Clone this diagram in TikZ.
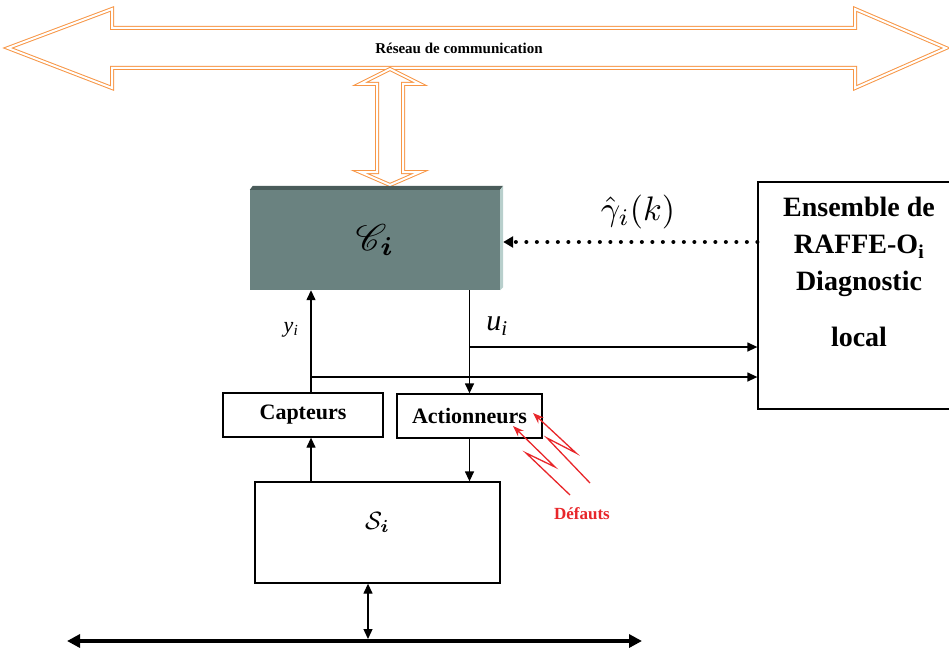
\documentclass[tikz,border=0pt]{standalone}
\usepackage{fontspec}
\setmainfont{Liberation Serif}
\usepackage{amsmath,bm}
\usepackage{mathrsfs}
\usepackage{graphicx}
\usetikzlibrary{arrows.meta,positioning,calc}
\definecolor{netorange}{HTML}{F79646}
\definecolor{ctrlgray}{HTML}{6A8280}
\definecolor{ctrldark}{HTML}{4A5C5A}
\definecolor{ctrllight}{HTML}{B8CFCC}
\definecolor{faultred}{HTML}{E8262A}
\tikzset{
  blockbox/.style={draw, line width=1.3pt, inner sep=0pt, font=\fontsize{22}{26}\selectfont\bfseries},
  sig/.style={-{Triangle[length=10pt,width=9pt]}, line width=1.3pt},
  pipe/.style={draw=netorange, line width=1pt, double=white, double distance=2pt, fill=white, line join=miter},
  fault/.style={draw=faultred, line width=1.3pt, -{Stealth[length=11pt,width=8pt]}},
}
\begin{document}
\begin{tikzpicture}[x=1pt,y=-1pt]
\useasboundingbox (0,0) rectangle (949,647);
% reseau de communication
\draw[pipe] (8,48) -- (112,9) -- (112,28) -- (855,28) -- (855,9) -- (946,48) -- (855,88) -- (855,68) -- (112,68) -- (112,88) -- cycle;
\node[font=\fontsize{15}{18}\selectfont\bfseries] (net) at (459,48) {Réseau de communication};
\draw[pipe] (390,69) -- (420,84) -- (403,84) -- (403,172) -- (420,172) -- (390,185) -- (360,172) -- (377,172) -- (377,84) -- (360,84) -- cycle;
% controleur local
\node[fill=ctrlgray, minimum width=250pt, minimum height=100pt, inner sep=0pt] (ctrl) at (375,240) {\scalebox{3.7}{$\mathscr{C}_{\boldsymbol{i}}$}};
\fill[ctrldark] (ctrl.north west) -- ++(3,-4) -- ($(ctrl.north east)+(3,-4)$) -- (ctrl.north east) -- cycle;
\fill[ctrllight] (ctrl.north east) -- ++(3,-4) -- ($(ctrl.south east)+(3,-3)$) -- (ctrl.south east) -- cycle;
% diagnostic
\node[draw, line width=1.3pt, minimum width=202pt, minimum height=227pt] (diag) at (859,295.5) {};
\node[font=\fontsize{28}{37}\selectfont\bfseries, align=center, below=12pt of diag.north] (diagtxt) {Ensemble de\\RAFFE-O\textsubscript{i}\\Diagnostic\\[19pt]local};
% capteurs, actionneurs, systeme
\node[blockbox, minimum width=160pt, minimum height=44pt] (capt) at (303,415) {Capteurs};
\node[blockbox, minimum width=145pt, minimum height=44pt] (act) at (469.5,416) {Actionneurs};
\node[blockbox, minimum width=245pt, minimum height=101pt] (plant) at (377.5,532.5) {};
\node[yshift=10pt] (plantname) at (plant.center) {\scalebox{2.5}{$\mathcal{S}_{\boldsymbol{i}}$}};
% signaux
\coordinate (ybr) at (311,377);
\coordinate (ubr) at (469.5,347);
\draw[sig] (capt.north -| ybr) -- (ctrl.south -| ybr);
\draw[sig] (ybr) -- (ybr -| diag.west);
\draw[sig] (ctrl.south -| act.north) -- (act.north);
\draw[sig] (ubr) -- (ubr -| diag.west);
\draw[sig] (act.south) -- (act.south |- plant.north);
\draw[sig] (plant.north -| ybr) -- (capt.south -| ybr);
\node[font=\fontsize{22}{22}\selectfont] (ylbl) at (291,330) {\textit{y}\textsubscript{\textit{i}}};
\node[font=\fontsize{30}{30}\selectfont] (ulbl) at (497,326) {\textit{u}\textsubscript{\textit{i}}};
% residus
\draw[line width=4pt, dash pattern=on 0pt off 10.5pt, line cap=round, -{Triangle[length=10pt,width=11pt]}] ([yshift=-2pt]ctrl.east -| diag.west) -- ([xshift=3pt,yshift=-2pt]ctrl.east);
\node (gamlbl) at (638,212) {\scalebox{3.4}{$\hat{\gamma}_i(k)$}};
% defauts
\draw[fault] (590,483) -- (547,438) -- (576,453) -- (533,413);
\draw[fault] (570,495) -- (526,453) -- (555,467) -- (513,426);
\node[text=faultred, font=\fontsize{17}{20}\selectfont\bfseries] (defauts) at (582,514) {Défauts};
% bus
\coordinate (busL) at (67,641);
\coordinate (busR) at (642,641);
\coordinate (busT) at (368,641);
\draw[line width=4pt, {Triangle[length=13pt,width=13pt]}-{Triangle[length=13pt,width=13pt]}] (busL) -- (busR);
\draw[line width=1.3pt, {Triangle[length=10pt,width=9pt]}-{Triangle[length=10pt,width=9pt]}] (plant.south -| busT) -- ([yshift=2pt]busT);
\end{tikzpicture}
\end{document}
